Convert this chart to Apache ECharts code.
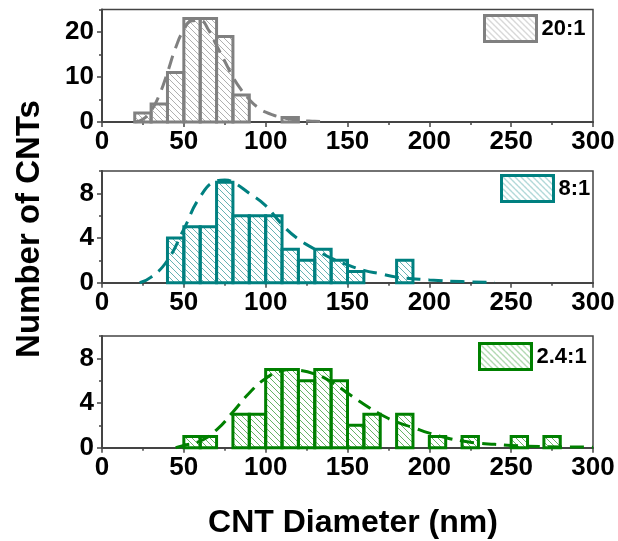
<!DOCTYPE html>
<html><head><meta charset="utf-8">
<script src="https://cdn.jsdelivr.net/npm/echarts@6/dist/echarts.min.js"></script>
<style>html,body{margin:0;padding:0;background:#fff}#c{width:618px;height:541px}</style>
</head><body><div id="c"></div>
<script>
// ---- data ----
const binWidth = 10;
const labels = ['20:1', '8:1', '2.4:1'];
const colors = ['#808080', '#008080', '#008000'];
const hatchColors = ['#b0b0b0', '#66b3b3', '#66b366'];

const bins20 = [20, 30, 40, 50, 60, 70, 80, 90, 100, 110];
const counts20 = [2, 4, 11, 23, 23, 19, 6, 0, 0, 1];
const bins8 = [40, 50, 60, 70, 80, 90, 100, 110, 120, 130, 140, 150, 160, 170, 180];
const counts8 = [4, 5, 5, 9, 6, 6, 6, 3, 2, 3, 2, 1, 0, 0, 2];
const bins24 = [50, 60, 70, 80, 90, 100, 110, 120, 130, 140, 150, 160, 170, 180, 190, 200, 210, 220, 230, 240, 250, 260, 270];
const counts24 = [1, 1, 0, 3, 3, 7, 7, 6, 7, 6, 2, 3, 0, 3, 0, 1, 0, 1, 0, 0, 1, 0, 1];

const fitX20 = [20, 25, 30, 35, 40, 45, 50, 55, 60, 65, 70, 75, 80, 85, 90, 95, 100, 110, 120, 130, 135];
const fitY20 = [0, 0.6, 2.5, 6, 11, 16.5, 20.5, 22.5, 22.6, 20.5, 17, 13.5, 10, 7.2, 5, 3.3, 2.2, 1, 0.4, 0.15, 0.1];
const fitX8 = [23, 30, 40, 50, 60, 70, 75, 80, 90, 100, 110, 120, 130, 140, 150, 160, 170, 180, 200, 220, 240];
const fitY8 = [0, 0.5, 2.0, 4.8, 7.7, 9.1, 9.2, 9.0, 8.0, 6.9, 5.2, 3.9, 3.0, 2.2, 1.6, 1.1, 0.8, 0.5, 0.25, 0.1, 0.04];
const fitX24 = [45, 50, 60, 70, 80, 90, 100, 110, 115, 120, 130, 140, 150, 160, 170, 180, 190, 200, 210, 220, 230, 240, 250, 270, 300];
const fitY24 = [0, 0.2, 0.6, 1.6, 3.2, 4.9, 6.2, 6.9, 7.0, 6.95, 6.6, 5.9, 4.9, 3.9, 3.0, 2.3, 1.8, 1.3, 0.9, 0.6, 0.4, 0.3, 0.2, 0.1, 0.05];

const xMin = 0, xMax = 300, xInterval = 50;
const yMaxes = [25, 10, 10];
const yIntervals = [5, 2, 2];
const yMajorTicks = [[0, 10, 20], [0, 4, 8], [0, 4, 8]];

// ---- styling ----
const FONT = 'Liberation Sans, Arial, sans-serif';
const AXIS = '#444';
function hatch(color) {
  const s = 6;
  const c = document.createElement('canvas');
  c.width = s; c.height = s;
  const g = c.getContext('2d');
  g.strokeStyle = color; g.lineWidth = 1;
  g.beginPath();
  for (const k of [-s, 0, s]) { g.moveTo(k, 0); g.lineTo(k + s, s); }
  g.stroke();
  return { image: c, repeat: 'repeat' };
}
const patterns = hatchColors.map(hatch);

const groups = [
  { bins: bins20, counts: counts20, fx: fitX20, fy: fitY20 },
  { bins: bins8, counts: counts8, fx: fitX8, fy: fitY8 },
  { bins: bins24, counts: counts24, fx: fitX24, fy: fitY24 }
];

const gridTops = [9.5, 171, 336];
const gridHeights = [112.5, 111.7, 111.7];
const legendPos = [[483, 14], [500, 174], [478, 342]];

const grid = gridTops.map((t, i) => ({
  left: 102, right: 25, top: t, height: gridHeights[i],
  show: true, borderColor: AXIS, borderWidth: 1.5, backgroundColor: 'transparent'
}));

const xAxis = groups.map((g, i) => ({
  type: 'value', gridIndex: i, min: xMin, max: xMax, interval: xInterval,
  axisLine: { show: true, onZero: false, lineStyle: { color: AXIS, width: 2 } },
  axisTick: { show: true, length: 5, lineStyle: { color: AXIS, width: 1.5 } },
  minorTick: { show: true, splitNumber: 2, length: 3, lineStyle: { color: AXIS, width: 1.5 } },
  splitLine: { show: false },
  axisLabel: { color: '#000', fontSize: 26, fontWeight: 'bold', fontFamily: FONT, margin: 7 }
}));

const yAxis = groups.map((g, i) => ({
  type: 'value', gridIndex: i, position: 'left', min: 0, max: yMaxes[i], interval: yIntervals[i],
  axisLine: { show: true, onZero: false, lineStyle: { color: AXIS, width: 2 } },
  axisTick: { show: true, length: 5, customValues: yMajorTicks[i], lineStyle: { color: AXIS, width: 1.5 } },
  splitLine: { show: false },
  axisLabel: {
    color: '#000', fontSize: 26, fontWeight: 'bold', fontFamily: FONT, margin: 8,
    customValues: yMajorTicks[i],
    formatter: v => yMajorTicks[i].indexOf(v) >= 0 ? String(v) : ''
  }
})).concat(groups.map((g, i) => ({
  // short intermediate ticks
  type: 'value', gridIndex: i, position: 'left', offset: 0, min: 0, max: yMaxes[i], interval: yIntervals[i],
  axisLine: { show: false },
  axisTick: { show: true, length: 3, lineStyle: { color: AXIS, width: 1.5 } },
  axisLabel: { show: false },
  splitLine: { show: false }
})));

const series = [];
groups.forEach((g, i) => {
  series.push({
    type: 'custom', name: labels[i], xAxisIndex: i, yAxisIndex: i, z: 2,
    itemStyle: { color: patterns[i], borderColor: colors[i], borderWidth: 3 },
    encode: { x: 0, y: 1 },
    data: g.bins.map((b, j) => [b, g.counts[j]]).filter(d => d[1] > 0),
    renderItem: (params, api) => {
      const x0 = api.value(0), y = api.value(1);
      const p0 = api.coord([x0, y]);
      const p1 = api.coord([x0 + binWidth, 0]);
      return {
        type: 'rect',
        shape: { x: p0[0], y: p0[1], width: p1[0] - p0[0], height: p1[1] - p0[1] },
        style: { fill: patterns[i], stroke: colors[i], lineWidth: 3 }
      };
    }
  });
  series.push({
    type: 'line', name: labels[i] + ' fit', xAxisIndex: i, yAxisIndex: i, z: 3,
    smooth: true, showSymbol: false, symbol: 'none',
    lineStyle: { color: colors[i], width: 3, type: [14, 8] },
    data: g.fx.map((x, j) => [x, g.fy[j]])
  });
});

const legend = labels.map((name, i) => ({
  left: legendPos[i][0], top: legendPos[i][1], padding: 0, selectedMode: false,
  itemWidth: 52, itemHeight: 26, icon: 'rect',
  textStyle: { color: '#000', fontSize: 22, fontWeight: 'bold', fontFamily: FONT },
  data: [{ name: name, icon: 'rect', itemStyle: { color: patterns[i], borderColor: colors[i], borderWidth: 3 } }]
}));

const option = {
  animation: false,
  backgroundColor: '#fff',
  grid, xAxis, yAxis, series, legend,
  graphic: [
    { type: 'text', x: 30, y: 229, rotation: Math.PI / 2,
      style: { text: 'Number of CNTs', fontSize: 33, fontWeight: 'bold', fontFamily: FONT, fill: '#000', align: 'center', verticalAlign: 'middle' } },
    { type: 'text', x: 353, y: 523,
      style: { text: 'CNT Diameter (nm)', fontSize: 32, fontWeight: 'bold', fontFamily: FONT, fill: '#000', align: 'center', verticalAlign: 'middle' } }
  ]
};
const chart = echarts.init(document.getElementById('c'), null, { renderer: 'canvas' });
chart.setOption(option);
</script></body></html>
